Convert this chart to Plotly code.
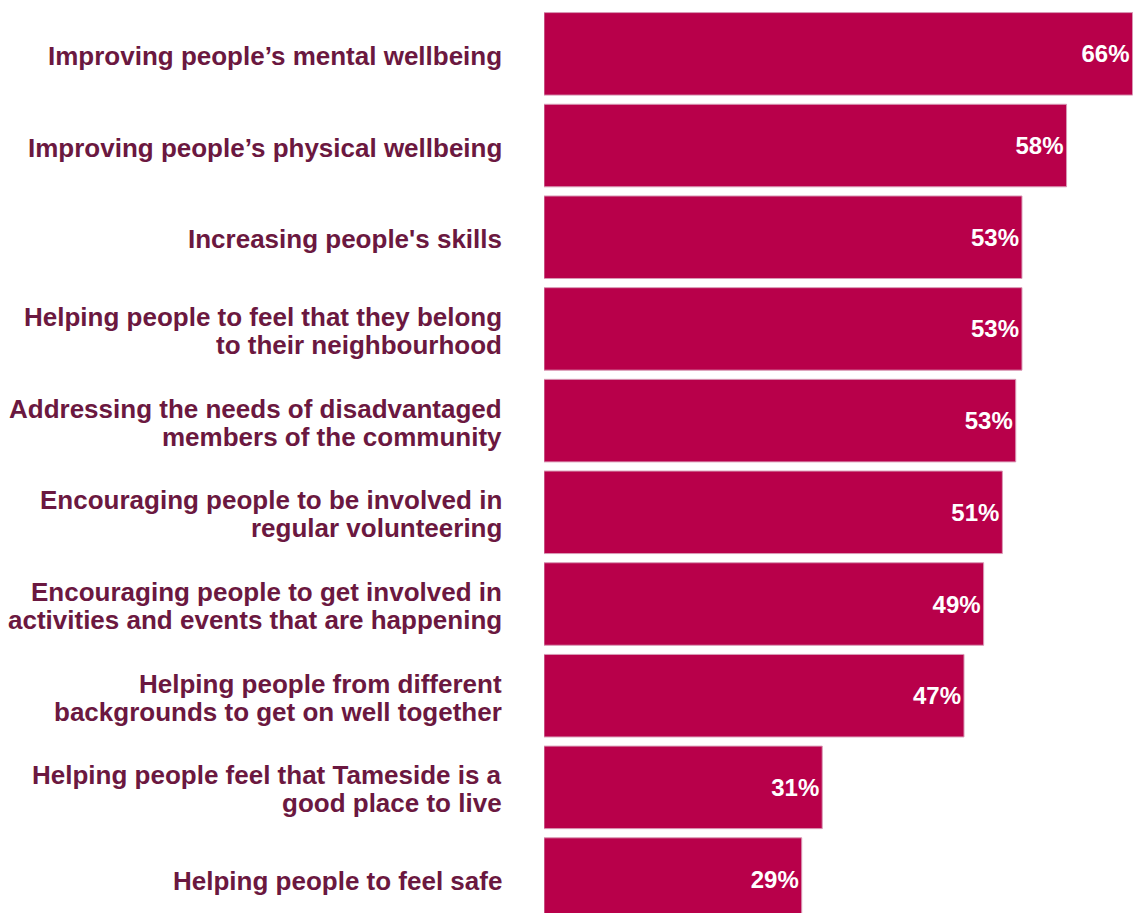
import plotly.graph_objects as go

categories = [
    "Improving people’s mental wellbeing",
    "Improving people’s physical wellbeing",
    "Increasing people's skills",
    "Helping people to feel that they belong<br>to their neighbourhood",
    "Addressing the needs of disadvantaged<br>members of the community",
    "Encouraging people to be involved in<br>regular volunteering",
    "Encouraging people to get involved in<br>activities and events that are happening",
    "Helping people from different<br>backgrounds to get on well together",
    "Helping people feel that Tameside is a<br>good place to live",
    "Helping people to feel safe",
]
values = [66.0, 58.6, 53.6, 53.6, 52.9, 51.4, 49.3, 47.1, 31.2, 28.9]
value_labels = ["66%", "58%", "53%", "53%", "53%", "51%", "49%", "47%", "31%", "29%"]

BAR = "#B8004A"
LABEL = "#6B1840"
FONT = "Liberation Sans, Arial, sans-serif"

positions = list(range(len(categories)))

fig = go.Figure(go.Bar(
    x=values,
    y=positions,
    orientation="h",
    marker=dict(color=BAR, line=dict(color="#D99AB6", width=1)),
    text=value_labels,
    texttemplate="<b>%{text}</b>",
    textposition="inside",
    insidetextanchor="end",
    textangle=0,
    constraintext="none",
    textfont=dict(family=FONT, size=24, color="white"),
    hoverinfo="skip",
))

# category labels as annotations (tight line spacing like the reference)
LINE_GAP = 28
for pos, cat in zip(positions, categories):
    lines = cat.split("<br>")
    n = len(lines)
    for j, line in enumerate(lines):
        offset = (j - (n - 1) / 2) * LINE_GAP
        fig.add_annotation(
            x=0, xref="paper", xanchor="right", xshift=-40,
            y=pos, yref="y", yanchor="middle", yshift=-offset - 2,
            text=f"<b>{line}</b>", showarrow=False,
            font=dict(family=FONT, size=26, color=LABEL),
        )

fig.update_layout(
    width=1134, height=913,
    margin=dict(l=544, r=1, t=8, b=0),
    paper_bgcolor="white", plot_bgcolor="white",
    bargap=0.1,
    showlegend=False,
    font=dict(family=FONT),
)
fig.update_xaxes(range=[0, 66.05], visible=False, fixedrange=True)
fig.update_yaxes(
    range=[9.37, -0.5],
    showticklabels=False, fixedrange=True,
    ticks="", showgrid=False, zeroline=False, showline=False,
)

fig.write_html(
    "out.html",
    config={"displayModeBar": False, "staticPlot": True},
    post_script="document.body.style.margin='0';document.body.style.overflow='hidden';",
)
